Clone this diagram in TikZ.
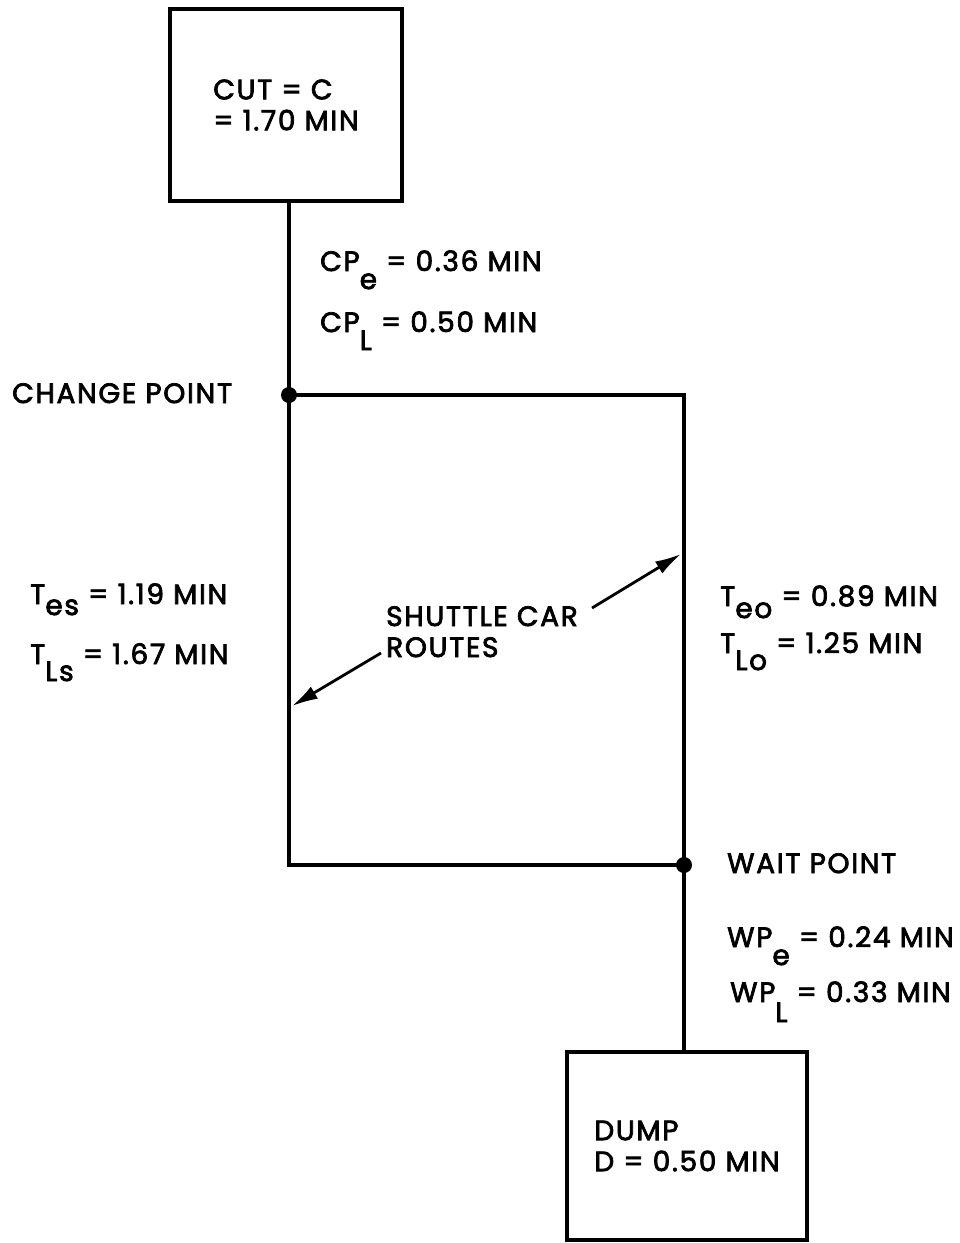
\documentclass[tikz,border=0pt]{standalone}
\usepackage{fontspec}
\setmainfont{Poppins}[FakeBold=2.6,LetterSpace=6]
\usetikzlibrary{positioning,arrows.meta}
\newcommand{\labelfont}{\fontsize{28}{31}\selectfont}
\newcommand{\subdown}[2]{\raisebox{-#1pt}{#2}}
\tikzset{
  cyclebox/.style={draw,line width=4pt,minimum width=232pt,minimum height=192pt,align=left,font=\labelfont},
  timelabel/.style={anchor=base west,inner sep=0pt,font=\labelfont,align=left},
  route/.style={line width=4pt,line join=miter},
  junction/.style={circle,fill,inner sep=0pt,minimum size=16pt},
  pointer/.style={-{Latex[length=26pt,width=14pt]},line width=2.8pt}
}

\begin{document}
\begin{tikzpicture}[x=1pt,y=-1pt]
  \useasboundingbox (0,0) rectangle (960,1243);
  % boxes
  \node[cyclebox] (cut) at (286,105) {CUT = C\\= 1.70 MIN};
  \node[cyclebox,minimum width=240pt,minimum height=188pt] (dump) at (687,1146) {DUMP\\D = 0.50 MIN};
  % route loop
  \node[junction] (cp) at (289,395) {};
  \node[junction] (wp) at (684,865) {};
  \coordinate (ne) at (684,395);
  \coordinate (sw) at (289,865);
  \draw[route] (cp |- cut.south) -- (sw) -- (wp.center) -- (wp |- dump.north);
  \draw[route] (cp.center) -- (ne) -- (wp.center);
  % labels
  \node[timelabel] (cpe) at (320,271) {CP\subdown{18}{e} = 0.36 MIN};
  \node[timelabel] (cpl) at (320,332) {CP\subdown{18}{L} = 0.50 MIN};
  \node[timelabel] (change) at (12,403) {CHANGE POINT};
  \node[timelabel] (tes) at (30,604) {T\subdown{11}{es} = 1.19 MIN};
  \node[timelabel] (tls) at (30,664) {T\subdown{17}{Ls} = 1.67 MIN};
  \node[timelabel] (teo) at (720,606) {T\subdown{12}{eo} = 0.89 MIN};
  \node[timelabel] (tlo) at (720,653) {T\subdown{17}{Lo} = 1.25 MIN};
  \node[timelabel] (wait) at (727,873) {WAIT POINT};
  \node[timelabel] (wpe) at (727,947) {WP\subdown{18}{e} = 0.24 MIN};
  \node[timelabel] (wpl) at (730,1002) {WP\subdown{20}{L} = 0.33 MIN};
  \node[timelabel] (shuttle) at (386,657) {SHUTTLE CAR\\ROUTES};
  % pointers
  \coordinate (ltail) at (381,653);
  \coordinate (ltip) at (292,706);
  \coordinate (rtail) at (592,608);
  \coordinate (rtip) at (681,554);
  \draw[pointer] (ltail) -- (ltip);
  \draw[pointer] (rtail) -- (rtip);
\end{tikzpicture}
\end{document}
